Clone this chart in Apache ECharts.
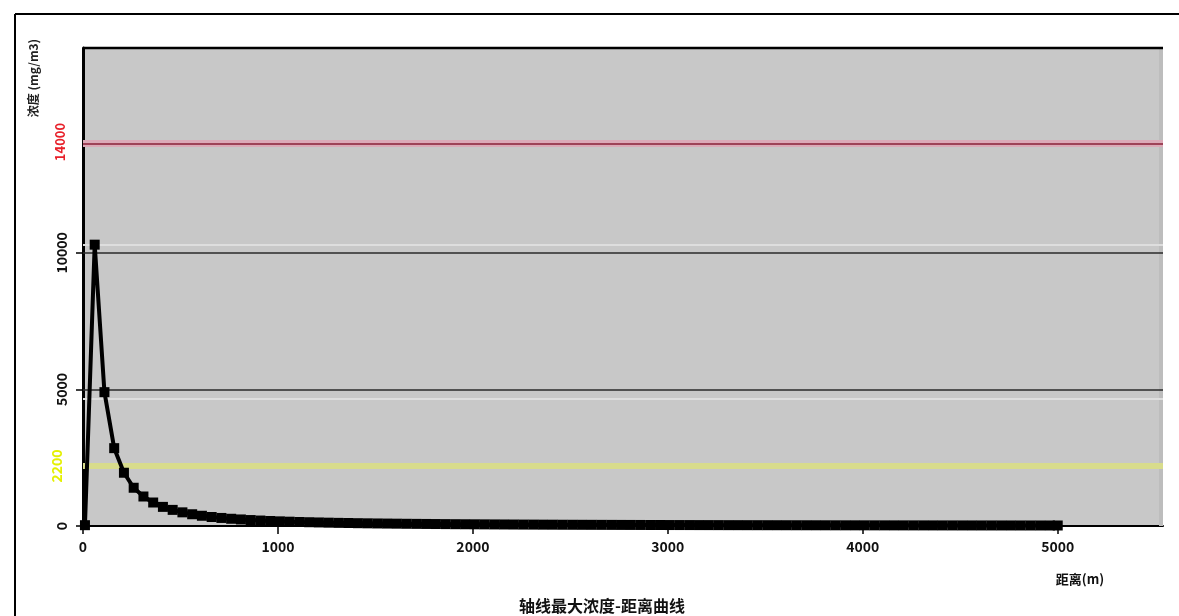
<!DOCTYPE html>
<html><head><meta charset="utf-8">
<script src="https://cdn.jsdelivr.net/npm/echarts@6/dist/echarts.min.js"></script>
<style>html,body{margin:0;padding:0;background:#fff}#c{width:1179px;height:616px}</style>
</head><body><div id="c"></div>
<script>
const distances = [10,60,110,160,210,260,310,360,410,460,510,560,610,660,710,760,810,860,910,960,
1010,1060,1110,1160,1210,1260,1310,1360,1410,1460,1510,1560,1610,1660,1710,1760,1810,1860,1910,1960,
2010,2060,2110,2160,2210,2260,2310,2360,2410,2460,2510,2560,2610,2660,2710,2760,2810,2860,2910,2960,
3010,3060,3110,3160,3210,3260,3310,3360,3410,3460,3510,3560,3610,3660,3710,3760,3810,3860,3910,3960,
4010,4060,4110,4160,4210,4260,4310,4360,4410,4460,4510,4560,4610,4660,4710,4760,4810,4860,4910,4960,5000];
const concentration = [30,10300,4900,2850,1950,1400,1080,860,700,590,500,430,375,330,295,265,240,218,200,184,
170,158,147,138,130,122,115,109,103,98,93,89,85,81,78,75,72,69,66,64,
62,60,58,56,54,52,51,49,48,46,45,44,43,42,41,40,39,38,37,36,
35,34.5,34,33,32.5,32,31,30.5,30,29.5,29,28.5,28,27.5,27,26.5,26,25.5,25,24.7,
24.3,24,23.6,23.2,22.9,22.6,22.3,22,21.7,21.4,21.1,20.8,20.5,20.3,20,19.8,19.5,19.3,19,18.8,18.6];
const xTicks = [0,1000,2000,3000,4000,5000];
const yTicks = [0,5000,10000];
const gridLevels = [5000,10000];
const redLimit = 14000;
const yellowLimit = 2200;
const title = '轴线最大浓度-距离曲线';
const xName = '距离(m)';
const yName = '浓度 (mg/m3)';

const font = '"Noto Sans CJK SC", "DejaVu Sans", sans-serif';
const chart = echarts.init(document.getElementById('c'));
const pts = distances.map((d,i)=>[d, concentration[i]]);
chart.setOption({
  animation:false,
  backgroundColor:'#ffffff',
  grid:{left:83,right:16,top:48,bottom:90,show:true,backgroundColor:'#c8c8c8',borderWidth:0},
  xAxis:{type:'value',min:0,max:5540,interval:1000,
    axisLine:{show:true,onZero:false,lineStyle:{color:'#000',width:2}},
    axisTick:{show:true,length:8,customValues:xTicks,lineStyle:{color:'#000',width:1.5}},
    axisLabel:{customValues:xTicks,formatter:v=>String(v),color:'#111',fontSize:14,fontWeight:'bold',fontFamily:font,margin:14},
    splitLine:{show:false}},
  yAxis:{type:'value',min:0,max:17500,interval:5000,
    axisLine:{show:true,lineStyle:{color:'#000',width:3}},
    axisTick:{show:true,length:7,customValues:yTicks,lineStyle:{color:'#000',width:1.5}},
    axisLabel:{customValues:yTicks,formatter:v=>String(v),rotate:90,color:'#111',fontSize:14,fontWeight:'bold',fontFamily:font,margin:14},
    splitLine:{show:false}},
  graphic:[
    {type:'line',shape:{x1:15,y1:14,x2:1179,y2:14},style:{stroke:'#000',lineWidth:2}},
    {type:'line',shape:{x1:15,y1:14,x2:15,y2:616},style:{stroke:'#000',lineWidth:2}},
    {type:'line',shape:{x1:83,y1:48,x2:1163,y2:48},style:{stroke:'#000',lineWidth:2.5},z:10},
    {type:'rect',shape:{x:1159,y:48,width:4,height:478},style:{fill:'#bdbdbd'},z:1},
    {type:'text',x:602,y:606,style:{text:title,fill:'#111',font:'bold 16px '+font,align:'center',verticalAlign:'middle'}},
    {type:'text',x:1080,y:579,style:{text:xName,fill:'#111',font:'bold 13px '+font,align:'center',verticalAlign:'middle'}},
    {type:'text',x:33,y:78,rotation:Math.PI/2,style:{text:yName,fill:'#222',font:'bold 12px '+font,align:'center',verticalAlign:'middle'}},
    {type:'text',x:60,y:142,rotation:Math.PI/2,style:{text:String(redLimit),fill:'#e8202a',font:'bold 13px '+font,align:'center',verticalAlign:'middle'}},
    {type:'text',x:57,y:466,rotation:Math.PI/2,style:{text:String(yellowLimit),fill:'#e4f000',font:'bold 14px '+font,align:'center',verticalAlign:'middle'}}
  ],
  series:[
    {type:'line',data:[],silent:true,
     markLine:{silent:true,symbol:'none',label:{show:false},animation:false,
       data:[
        ...gridLevels.map(v=>({yAxis:v,lineStyle:{color:'#2a2a2a',width:1.5,type:'solid'}})),
        ...gridLevels.map(v=>({yAxis:v+(v===10000?300:-350),lineStyle:{color:'#dedede',width:2,type:'solid'}})),
        {yAxis:redLimit,lineStyle:{color:'#dcaab8',width:7,type:'solid'}},
        {yAxis:redLimit,lineStyle:{color:'#8a2038',width:1.5,type:'solid'}},
        {yAxis:yellowLimit,lineStyle:{color:'#d8dc8c',width:6,type:'solid'}}
       ]}},
    {type:'line',data:pts,symbol:'rect',symbolSize:10,showSymbol:true,z:5,
     lineStyle:{color:'#000',width:4},itemStyle:{color:'#000'}}
  ]
});
</script></body></html>
